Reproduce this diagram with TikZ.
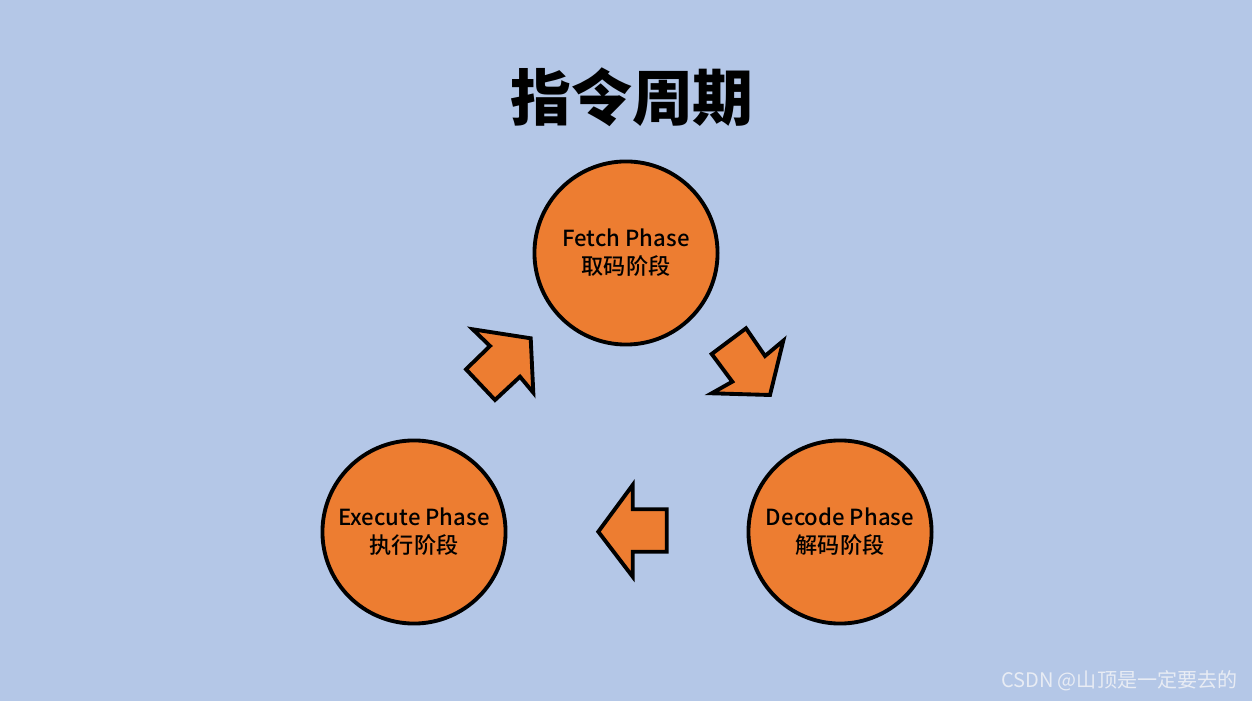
\documentclass[tikz,border=0pt]{standalone}
\usepackage{fontspec}
\newfontfamily\cjk{Noto Sans CJK SC}
\newfontfamily\cjkmed{Noto Sans CJK SC Medium}
\definecolor{bgblue}{RGB}{180,199,231}
\definecolor{phaseorange}{RGB}{237,125,49}
\definecolor{wmark}{RGB}{232,236,244}
\begin{document}
\begin{tikzpicture}[x=0.01cm,y=-0.01cm,
  phase/.style={circle,draw=black,fill=phaseorange,line width=1.1pt,minimum size=1.83cm,inner sep=0pt,align=center,font=\cjkmed\fontsize{6.3}{7.9}\selectfont},
  bigarrow/.style={draw=black,fill=phaseorange,line width=1.1pt,line join=miter}]
\fill[bgblue] (0,0) rectangle (1252,701);
\useasboundingbox (0,0) rectangle (1252,701);
\node[font=\cjk\bfseries\fontsize{17.3}{20}\selectfont] (title) at (632,97) {指令周期};
\node[phase] (fetch) at (626,253) {Fetch Phase\\取码阶段};
\node[phase] (decode) at (840,532) {Decode Phase\\解码阶段};
\node[phase] (execute) at (414,532) {Execute Phase\\执行阶段};
% arrow execute -> fetch
\draw[bigarrow] (472.7,329.3) -- (530.7,338.3) -- (533.3,392.7) -- (520,376.7) -- (495,400) -- (466,369.3) -- (490,346) -- cycle;
% arrow fetch -> decode
\draw[bigarrow] (746,328.3) -- (765,356) -- (783.3,340.7) -- (770,395) -- (711.7,393.3) -- (732.3,381.7) -- (711.7,354) -- cycle;
% arrow decode -> execute
\draw[bigarrow] (632.7,485) -- (632.7,509.3) -- (666.7,509.3) -- (666.7,551.7) -- (632.7,551.7) -- (632.7,576.7) -- (598.3,531.7) -- cycle;
\node[font=\cjk\fontsize{5.7}{7}\selectfont,text=wmark,anchor=east,inner sep=0pt] (wm) at (1238,681) {CSDN @山顶是一定要去的};
\end{tikzpicture}
\end{document}
